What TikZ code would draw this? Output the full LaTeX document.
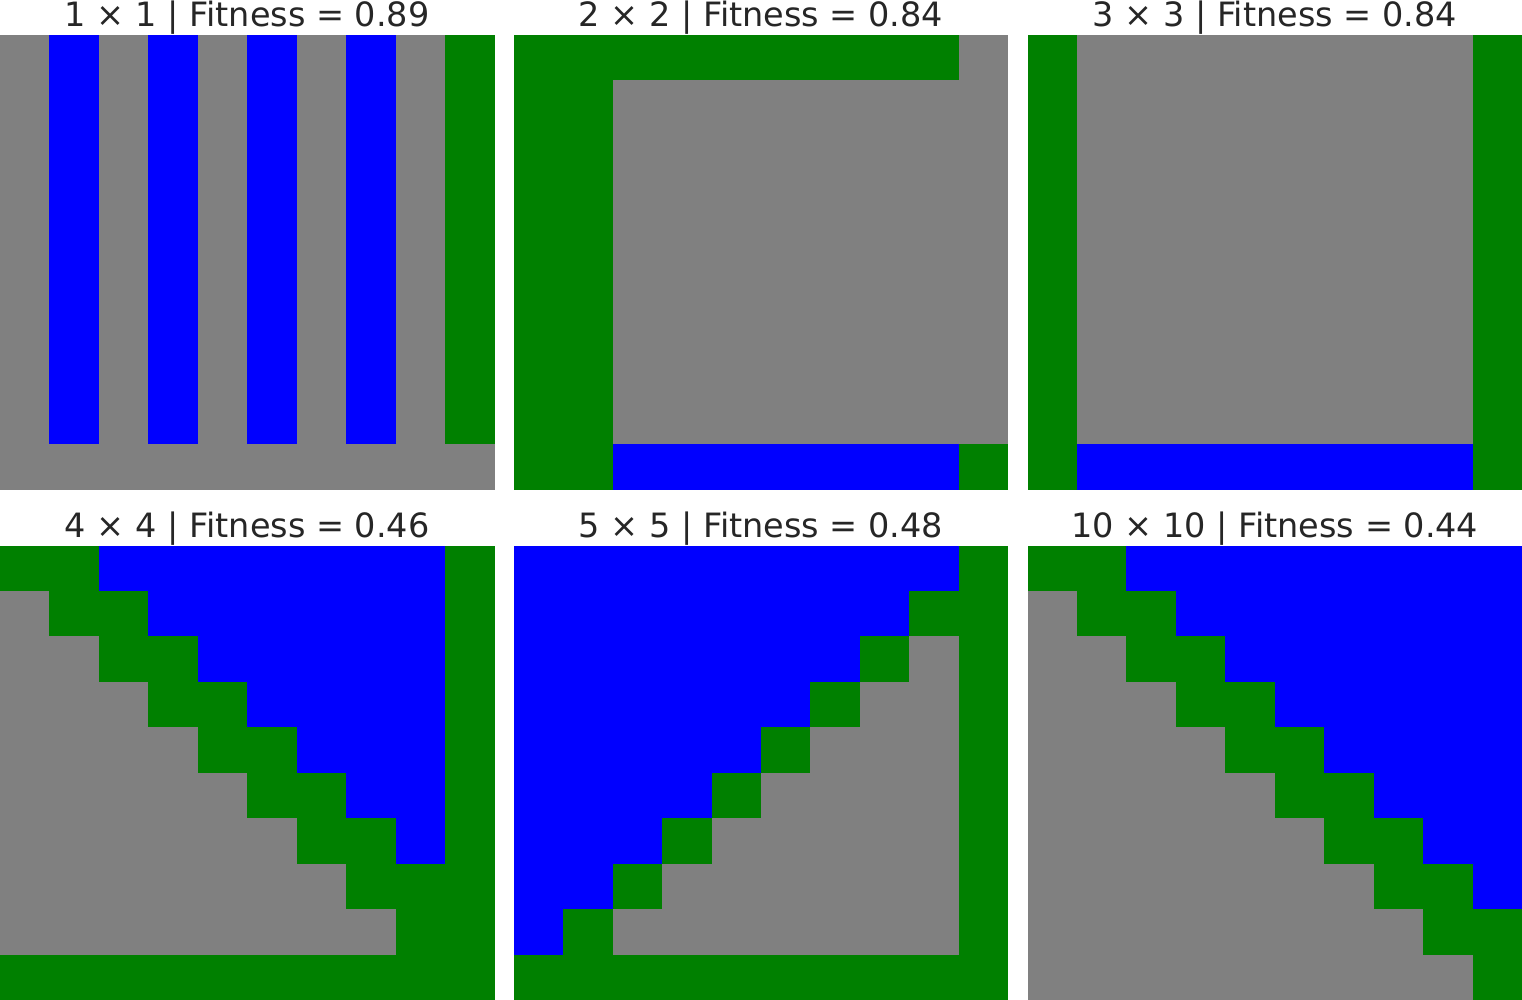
\documentclass[tikz,border=0pt]{standalone}
\usepackage{fontspec}
\setmainfont{DejaVu Sans}
\definecolor{cgray}{HTML}{808080}
\definecolor{cblue}{HTML}{0000FF}
\definecolor{cgreen}{HTML}{008000}
\definecolor{ctext}{HTML}{262626}
\tikzset{
  ttl/.style={anchor=base, text=ctext, font=\fontsize{33.5}{40}\selectfont, inner sep=0pt},
  cellsc/.style={x=49.45pt, y=-45.45pt},
}
\begin{document}
\begin{tikzpicture}[x=1pt,y=-1pt]
\useasboundingbox[fill=white] (0,0) rectangle (1522,1000);
% titles
\node[ttl] (t1) at (247.25,27) {1 × 1 | Fitness = 0.89};
\node[ttl] (t2) at (761,27) {2 × 2 | Fitness = 0.84};
\node[ttl] (t3) at (1274.75,27) {3 × 3 | Fitness = 0.84};
\node[ttl] (t4) at (247.25,537.5) {4 × 4 | Fitness = 0.46};
\node[ttl] (t5) at (761,537.5) {5 × 5 | Fitness = 0.48};
\node[ttl] (t6) at (1274.75,537.5) {10 × 10 | Fitness = 0.44};
% panel 1
\begin{scope}[shift={(0pt,-35pt)}, cellsc]
  \fill[cgray] (0,0) rectangle (10,10);
  \foreach \c in {1,3,5,7} \fill[cblue] (\c,0) rectangle (\c+1,9);
  \fill[cgreen] (9,0) rectangle (10,9);
\end{scope}
% panel 2
\begin{scope}[shift={(513.75pt,-35pt)}, cellsc]
  \fill[cgray] (0,0) rectangle (10,10);
  \fill[cgreen] (0,0) rectangle (9,1);
  \fill[cgreen] (0,1) rectangle (2,10);
  \fill[cgreen] (9,9) rectangle (10,10);
  \fill[cblue] (2,9) rectangle (9,10);
\end{scope}
% panel 3
\begin{scope}[shift={(1027.5pt,-35pt)}, cellsc]
  \fill[cgray] (0,0) rectangle (10,10);
  \fill[cgreen] (0,0) rectangle (1,10);
  \fill[cgreen] (9,0) rectangle (10,10);
  \fill[cblue] (1,9) rectangle (9,10);
\end{scope}
% panel 4
\begin{scope}[shift={(0pt,-545.5pt)}, cellsc]
  \fill[cgray] (0,0) rectangle (10,10);
  \foreach \r in {0,...,8} \fill[cgreen] (\r,\r) rectangle (\r+2,\r+1);
  \foreach \r in {0,...,6} \fill[cblue] (\r+2,\r) rectangle (9,\r+1);
  \fill[cgreen] (9,0) rectangle (10,10);
  \fill[cgreen] (0,9) rectangle (10,10);
\end{scope}
% panel 5
\begin{scope}[shift={(513.75pt,-545.5pt)}, cellsc]
  \fill[cgray] (0,0) rectangle (10,10);
  \foreach \r in {0,...,8} {
    \fill[cblue] (0,\r) rectangle (9-\r,\r+1);
    \fill[cgreen] (9-\r,\r) rectangle (10-\r,\r+1);
  }
  \fill[cgreen] (9,0) rectangle (10,10);
  \fill[cgreen] (0,9) rectangle (10,10);
\end{scope}
% panel 6
\begin{scope}[shift={(1027.5pt,-545.5pt)}, cellsc]
  \fill[cgray] (0,0) rectangle (10,10);
  \foreach \r in {0,...,8} \fill[cgreen] (\r,\r) rectangle (\r+2,\r+1);
  \fill[cgreen] (9,9) rectangle (10,10);
  \foreach \r in {0,...,7} \fill[cblue] (\r+2,\r) rectangle (10,\r+1);
\end{scope}
\end{tikzpicture}
\end{document}
